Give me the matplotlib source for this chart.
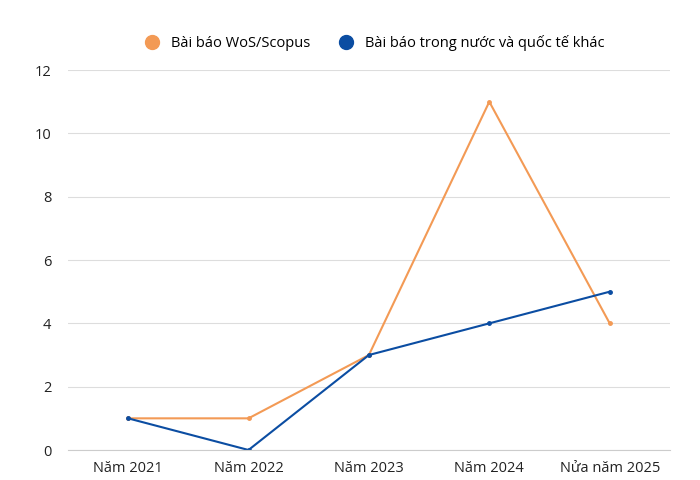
import matplotlib
matplotlib.use("Agg")
import matplotlib.pyplot as plt
from matplotlib.lines import Line2D

plt.rcParams['font.family'] = ['Open Sans', 'DejaVu Sans']

categories = ["Năm 2021", "Năm 2022", "Năm 2023", "Năm 2024", "Nửa năm 2025"]
wos_scopus = [1, 1, 3, 11, 4]
domestic_intl = [1, 0, 3, 4, 5]
series_names = ["Bài báo WoS/Scopus", "Bài báo trong nước và quốc tế khác"]
colors = ["#F39A55", "#0B4DA2"]

fig = plt.figure(figsize=(7, 4.8), dpi=100)
ax = fig.add_axes([0.097, 0.0625, 0.86, 0.7915])

x = range(len(categories))
ax.plot(x, wos_scopus, color=colors[0], lw=1.5, marker='o', ms=2.5)
ax.plot(x, domestic_intl, color=colors[1], lw=1.5, marker='o', ms=2.5)

ax.set_xlim(-0.5, len(categories) - 0.5)
ax.set_ylim(0, 12)
ax.set_yticks(range(0, 13, 2))
ax.set_xticks(list(x))
ax.set_xticklabels(categories)
ax.grid(axis='y', color='#DDDDDD', lw=0.8)
ax.set_axisbelow(True)
for s in ['top', 'right', 'left']:
    ax.spines[s].set_visible(False)
ax.spines['bottom'].set_color('#CCCCCC')
ax.tick_params(length=0, labelsize=10.5, colors='#222222')
ax.tick_params(axis='x', pad=8)
ax.tick_params(axis='y', pad=12)

handles = [Line2D([], [], ls='', marker='o', ms=10, color=c) for c in colors]
fig.legend(handles, series_names, loc='center', bbox_to_anchor=(0.53, 0.91),
           ncol=2, frameon=False, fontsize=10.5, handletextpad=0.3, columnspacing=1.5)

fig.savefig("out.png", dpi=100)
